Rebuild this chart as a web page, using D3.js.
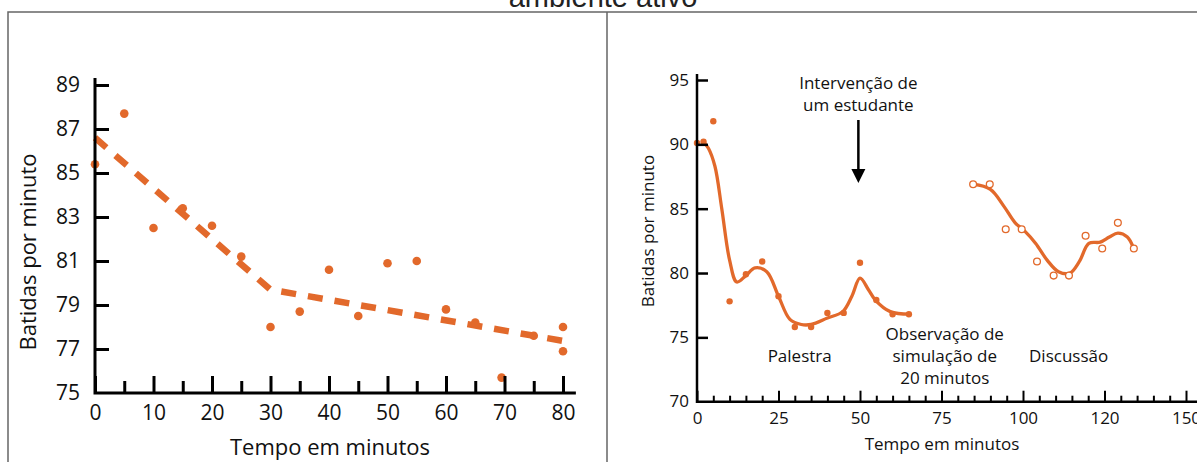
<!DOCTYPE html>
<html>
<head>
<meta charset="utf-8">
<script src="https://cdn.jsdelivr.net/npm/d3@7"></script>
<style>
	body { margin: 0; background: #fff; }
	svg { display: block; }
	text { font-family: "Open Sans", sans-serif; fill: #111; }
</style>
</head>
<body>
<svg id="chart" width="1197" height="462"></svg>
<script>
// --- left panel: heart rate during a lecture
var lectureTimes = [0, 5, 10, 15, 20, 25, 30, 35, 40, 45, 50, 55, 60, 65, 69.5, 75, 80, 80];
var lectureRates = [85.4, 87.7, 82.5, 83.4, 82.6, 81.2, 78.0, 78.7, 80.6, 78.5, 80.9, 81.0, 78.8, 78.2, 75.7, 77.6, 78.0, 76.9];
// dashed trend (two segments)
var trendTimes = [0, 30, 81.5];
var trendRates = [86.6, 79.7, 77.3];
var leftYTicks = [75, 77, 79, 81, 83, 85, 87, 89];
var leftXTicks = [0, 10, 20, 30, 40, 50, 60, 70, 80];

// --- right panel: active environment
var activeTimes = [0, 2, 5, 10, 15, 20, 25, 30, 35, 40, 45, 50, 55, 60, 65];
var activeRates = [90.1, 90.2, 91.8, 77.8, 79.9, 80.9, 78.2, 75.8, 75.8, 76.9, 76.9, 80.8, 77.9, 76.8, 76.8];
var activeFitTimes = [2, 3.5, 5.5, 7.6, 10, 12.2, 15, 17.8, 21.4, 25, 28.5, 32, 35, 40, 44.7, 47.5, 50, 52.6, 54.7, 59.3, 65.3];
var activeFitRates = [90.2, 89.7, 88.3, 85, 81, 79.3, 79.8, 80.4, 80.1, 78.2, 76.4, 76.0, 76.0, 76.5, 77.0, 78.2, 79.6, 78.7, 77.9, 77.0, 76.8];
var discussTimes = [84.7, 89.8, 94.7, 99.6, 104.3, 109.4, 114.1, 119.2, 124.3, 129.1, 134];
var discussRates = [86.9, 86.9, 83.4, 83.4, 80.9, 79.8, 79.8, 82.9, 81.9, 83.9, 81.9];
var discussFitTimes = [84.7, 90, 94.1, 97.6, 100.4, 103.9, 107.4, 110.9, 114.4, 117.3, 120.2, 123.7, 126.5, 129.1, 132, 133.8];
var discussFitRates = [86.9, 86.5, 85.2, 83.9, 83.3, 82.3, 81.0, 80.1, 80.0, 80.9, 82.3, 82.4, 82.8, 83.1, 82.8, 82.0];
var rightYTicks = [70, 75, 80, 85, 90, 95];
var rightXTicks = [0, 25, 50, 75, 100, 125, 150];
var rightXLabels = ["0", "25", "50", "75", "100", "120", "150"];

var orange = "#e2692b";
var svg = d3.select("#chart");

// frame and (cut off) title
svg.append("text").attr("x", 603).attr("y", 7).attr("text-anchor", "middle")
	.style("font-family", "'Liberation Sans', Arial, sans-serif").style("font-size", "29px").style("fill", "#222")
	.text("ambiente ativo");
svg.append("path").attr("d", "M8,462V12H1197M607,12V462")
	.attr("fill", "none").attr("stroke", "#666").attr("stroke-width", 1.5);

var zip = function(xs, ys) { return xs.map(function(x, i) { return [x, ys[i]]; }); };

// ================= left panel =================
var xL = d3.scaleLinear().domain([0, 80]).range([95, 563]);
var yL = d3.scaleLinear().domain([75, 89]).range([393, 85]);
var left = svg.append("g");

left.append("path")
	.datum(zip(trendTimes, trendRates))
	.attr("fill", "none").attr("stroke", orange).attr("stroke-width", 6.5)
	.attr("stroke-dasharray", "15,12")
	.attr("d", d3.line().x(function(d) { return xL(d[0]); }).y(function(d) { return yL(d[1]); }));

left.selectAll("circle.pt").data(zip(lectureTimes, lectureRates)).enter().append("circle")
	.attr("class", "pt")
	.attr("cx", function(d) { return xL(d[0]); })
	.attr("cy", function(d) { return yL(d[1]); })
	.attr("r", 4.3).attr("fill", orange);

var styleAxis = function(g, size, width) {
	g.select(".domain").remove();
	g.selectAll(".tick line").attr("stroke", "#000").attr("stroke-width", width);
	g.selectAll("text").style("font-family", "'Open Sans', sans-serif").style("font-size", size + "px").attr("fill", "#111");
};

// minor ticks on x
left.append("g").attr("transform", "translate(0," + yL(75) + ")")
	.call(d3.axisBottom(xL).tickValues(d3.range(5, 80, 10)).tickSize(-12).tickFormat(""))
	.call(function(g) { styleAxis(g, 21, 3); });
left.append("g").attr("transform", "translate(0," + yL(75) + ")")
	.call(d3.axisBottom(xL).tickValues(leftXTicks).tickSize(-17).tickPadding(12))
	.call(function(g) { styleAxis(g, 21, 3); g.selectAll("text").attr("y", 12).attr("dy", "0.71em"); });
left.append("g").attr("transform", "translate(" + xL(0) + ",0)")
	.call(d3.axisLeft(yL).tickValues(leftYTicks.slice(1)).tickSize(-14).tickPadding(15))
	.call(function(g) { styleAxis(g, 21, 3); g.selectAll("text").attr("x", -15); });
// "75" label without tick
left.append("text").attr("x", xL(0) - 15).attr("y", yL(75)).attr("dy", "0.32em")
	.attr("text-anchor", "end").style("font-size", "21px").text(leftYTicks[0]);
left.append("path")
	.attr("d", "M" + xL(0) + "," + yL(89.32) + "V" + yL(75) + "H" + xL(82.2))
	.attr("fill", "none").attr("stroke", "#000").attr("stroke-width", 3);

left.append("text").attr("transform", "translate(36,252) rotate(-90)")
	.attr("text-anchor", "middle").style("font-size", "22px").text("Batidas por minuto");
left.append("text").attr("x", 330).attr("y", 455)
	.attr("text-anchor", "middle").style("font-size", "22px").text("Tempo em minutos");

// ================= right panel =================
var xR = d3.scaleLinear().domain([0, 150]).range([697, 1186]);
var yR = d3.scaleLinear().domain([70, 95]).range([401.7, 80]);
var right = svg.append("g");
var fitLine = d3.line().curve(d3.curveCatmullRom.alpha(0.5))
	.x(function(d) { return xR(d[0]); }).y(function(d) { return yR(d[1]); });

right.append("path").datum(zip(activeFitTimes, activeFitRates))
	.attr("fill", "none").attr("stroke", orange).attr("stroke-width", 3.3).attr("d", fitLine);
right.append("path").datum(zip(discussFitTimes, discussFitRates))
	.attr("fill", "none").attr("stroke", orange).attr("stroke-width", 3.3).attr("d", fitLine);

right.selectAll("circle.act").data(zip(activeTimes, activeRates)).enter().append("circle")
	.attr("class", "act")
	.attr("cx", function(d) { return xR(d[0]); })
	.attr("cy", function(d) { return yR(d[1]); })
	.attr("r", 3.2).attr("fill", orange);
right.selectAll("circle.disc").data(zip(discussTimes, discussRates)).enter().append("circle")
	.attr("class", "disc")
	.attr("cx", function(d) { return xR(d[0]); })
	.attr("cy", function(d) { return yR(d[1]); })
	.attr("r", 3.4).attr("fill", "#fff").attr("stroke", orange).attr("stroke-width", 1.3);

right.append("g").attr("transform", "translate(0," + yR(70) + ")")
	.call(d3.axisBottom(xR).tickValues(d3.range(5, 155, 5).filter(function(v) { return v % 25; })).tickSize(-6).tickFormat(""))
	.call(function(g) { styleAxis(g, 17, 2); });
right.append("g").attr("transform", "translate(0," + yR(70) + ")")
	.call(d3.axisBottom(xR).tickValues(rightXTicks).tickSize(-11)
		.tickFormat(function(d, i) { return rightXLabels[i]; }))
	.call(function(g) { styleAxis(g, 17, 2); g.selectAll("text").attr("y", 10).attr("dy", "0.71em"); });
right.append("g").attr("transform", "translate(" + xR(0) + ",0)")
	.call(d3.axisLeft(yR).tickValues(rightYTicks.slice(1)).tickSize(-11))
	.call(function(g) { styleAxis(g, 17, 2.5); g.selectAll("text").attr("x", -8); });
right.append("text").attr("x", xR(0) - 8).attr("y", yR(70)).attr("dy", "0.32em")
	.attr("text-anchor", "end").style("font-size", "17px").text(rightYTicks[0]);
right.append("path")
	.attr("d", "M" + xR(0) + "," + yR(95.47) + "V" + yR(70) + "H" + xR(155))
	.attr("fill", "none").attr("stroke", "#000").attr("stroke-width", 2.5);

right.append("text").attr("transform", "translate(654,231) rotate(-90)")
	.attr("text-anchor", "middle").style("font-size", "17px").text("Batidas por minuto");
right.append("text").attr("x", 942).attr("y", 450)
	.attr("text-anchor", "middle").style("font-size", "17px").text("Tempo em minutos");

// annotations
var note = function(x, y, lines) {
	var t = right.append("text").attr("x", x).attr("y", y).attr("text-anchor", "middle").style("font-size", "17px");
	lines.forEach(function(l, i) {
		t.append("tspan").attr("x", x).attr("dy", i ? "1.3em" : 0).text(l);
	});
};
note(xR(49.5), 89, ["Intervenção de", "um estudante"]);
note(xR(31.5), 362, ["Palestra"]);
note(xR(76), 340, ["Observação de", "simulação de", "20 minutos"]);
note(xR(114), 362, ["Discussão"]);

var ax = xR(49.5);
right.append("line").attr("x1", ax).attr("x2", ax).attr("y1", 120).attr("y2", 172)
	.attr("stroke", "#000").attr("stroke-width", 2.5);
right.append("path").attr("d", "M" + (ax - 7) + ",169L" + (ax + 7) + ",169L" + ax + ",183Z").attr("fill", "#000");
</script>
</body>
</html>
